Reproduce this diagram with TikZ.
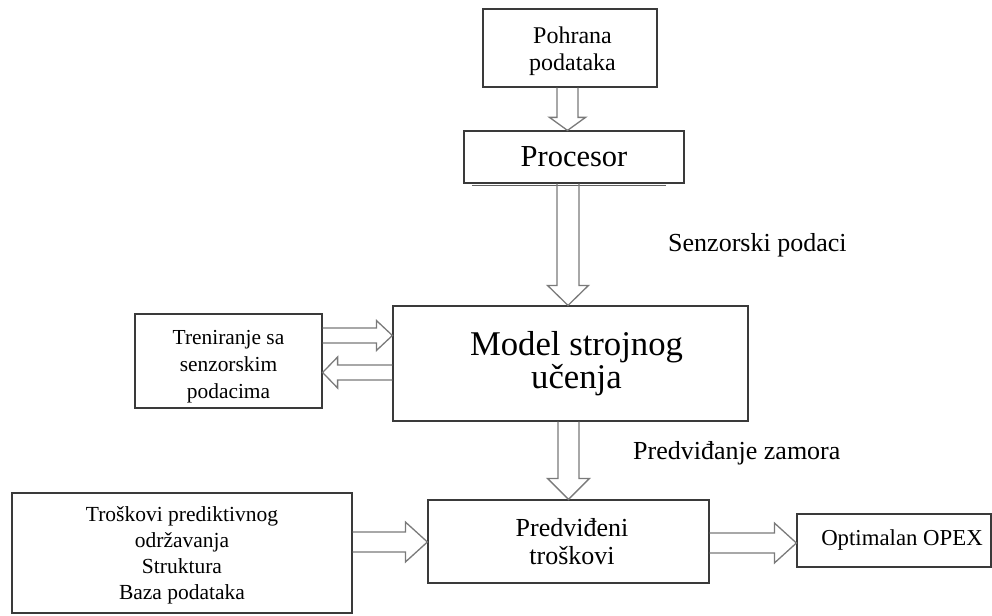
\documentclass[tikz,border=0pt]{standalone}
\usepackage{fontspec}
\setmainfont{Liberation Serif}
\usetikzlibrary{calc}
\definecolor{boxc}{HTML}{3A3A3A}
\definecolor{arrc}{HTML}{7A7A7A}
\tikzset{
  box/.style={draw=boxc, line width=1.2pt, inner sep=0pt, align=center, text=black},
  hollow/.style={draw=arrc, line width=1.3pt, line join=miter},
  lbl/.style={inner sep=0pt, text=black}
}
\newcommand\fsz[2]{\fontsize{#1}{#2}\selectfont}
\newcommand\tstrut[1]{\rule{0pt}{#1}}
\newcommand\hollowarrow[5]{%
  \coordinate (hb) at ($(#2)!#5!(#1)$);
  \draw[hollow] ($(#1)!#3!90:(#2)$) -- ($(hb)!#3!90:(#2)$) -- ($(hb)!#4!90:(#2)$) -- (#2)
     -- ($(hb)!#4!-90:(#2)$) -- ($(hb)!#3!-90:(#2)$) -- ($(#1)!#3!-90:(#2)$);
}
\begin{document}
\begin{tikzpicture}[x=1pt,y=-1pt]
\useasboundingbox (0,0) rectangle (992,615);

% boxes
\node[box, minimum width=174pt, minimum height=78pt, font=\fsz{24}{27}] (pohrana) at (570,48)
  {\tstrut{22.5pt}\hspace*{5pt}Pohrana\\\hspace*{5pt}podataka};
\node[box, minimum width=220pt, minimum height=52pt, font=\fsz{30.5}{34}] (procesor) at (574,157)
  {Procesor};
\draw[draw=boxc!80, line width=1.6pt] ($(procesor.south west)+(9,1.9)$) coordinate (shl) -- ($(procesor.south east)+(-19,1.9)$) coordinate (shr);
\node[box, minimum width=355pt, minimum height=115pt, font=\fsz{34.7}{33}] (model) at (570.5,363.5)
  {\hspace*{12pt}Model strojnog\\\hspace*{12pt}učenja};
\node[box, minimum width=187pt, minimum height=94pt, font=\fsz{21.4}{27}] (tren) at (228.5,361)
  {\tstrut{26.5pt}Treniranje sa\\senzorskim\\podacima};
\node[box, minimum width=340pt, minimum height=120pt, font=\fsz{21.5}{26}] (tros) at (182,553)
  {\tstrut{20.5pt}Troškovi prediktivnog\\održavanja\\Struktura\\Baza podataka};
\node[box, minimum width=281pt, minimum height=83pt, font=\fsz{26}{28}] (pred) at (568.5,541.5)
  {\hspace*{7pt}Predviđeni\\\hspace*{7pt}troškovi};
\node[box, minimum width=194pt, minimum height=53pt, font=\fsz{22.8}{26}] (opex) at (894,540.5)
  {\hspace*{16pt}Optimalan OPEX};

% labels
\node[lbl, anchor=base west, font=\fsz{26}{28}] (senz) at (668,251.7) {Senzorski podaci};
\node[lbl, anchor=base west, font=\fsz{26}{28}] (zamor) at (633,459) {Predviđanje zamora};

% hollow arrows
\coordinate (a1s) at ($(pohrana.south)+(-2.5,0)$);
\coordinate (a1e) at (a1s |- procesor.north);
\hollowarrow{a1s}{a1e}{10.5pt}{18pt}{13pt}

\coordinate (a2s) at ($(procesor.south)+(-6,0)$);
\coordinate (a2e) at (a2s |- model.north);
\hollowarrow{a2s}{a2e}{11pt}{20.5pt}{20pt}

\coordinate (a3s) at ($(model.south)+(-2,0)$);
\coordinate (a3e) at (a3s |- pred.north);
\hollowarrow{a3s}{a3e}{10.5pt}{21pt}{21pt}

\coordinate (a4s) at ($(tren.east)+(0,-25.5)$);
\coordinate (a4e) at (a4s -| model.west);
\hollowarrow{a4s}{a4e}{7.5pt}{15pt}{16pt}

\coordinate (a5s) at ($(model.west)+(0,9)$);
\coordinate (a5e) at (a5s -| tren.east);
\hollowarrow{a5s}{a5e}{7.5pt}{15.5pt}{15pt}

\coordinate (a6s) at ($(tros.east)+(0,-11)$);
\coordinate (a6e) at (a6s -| pred.west);
\hollowarrow{a6s}{a6e}{10pt}{20pt}{22pt}

\coordinate (a7s) at ($(pred.east)+(0,1.5)$);
\coordinate (a7e) at (a7s -| opex.west);
\hollowarrow{a7s}{a7e}{10pt}{20pt}{22pt}
\end{tikzpicture}
\end{document}
